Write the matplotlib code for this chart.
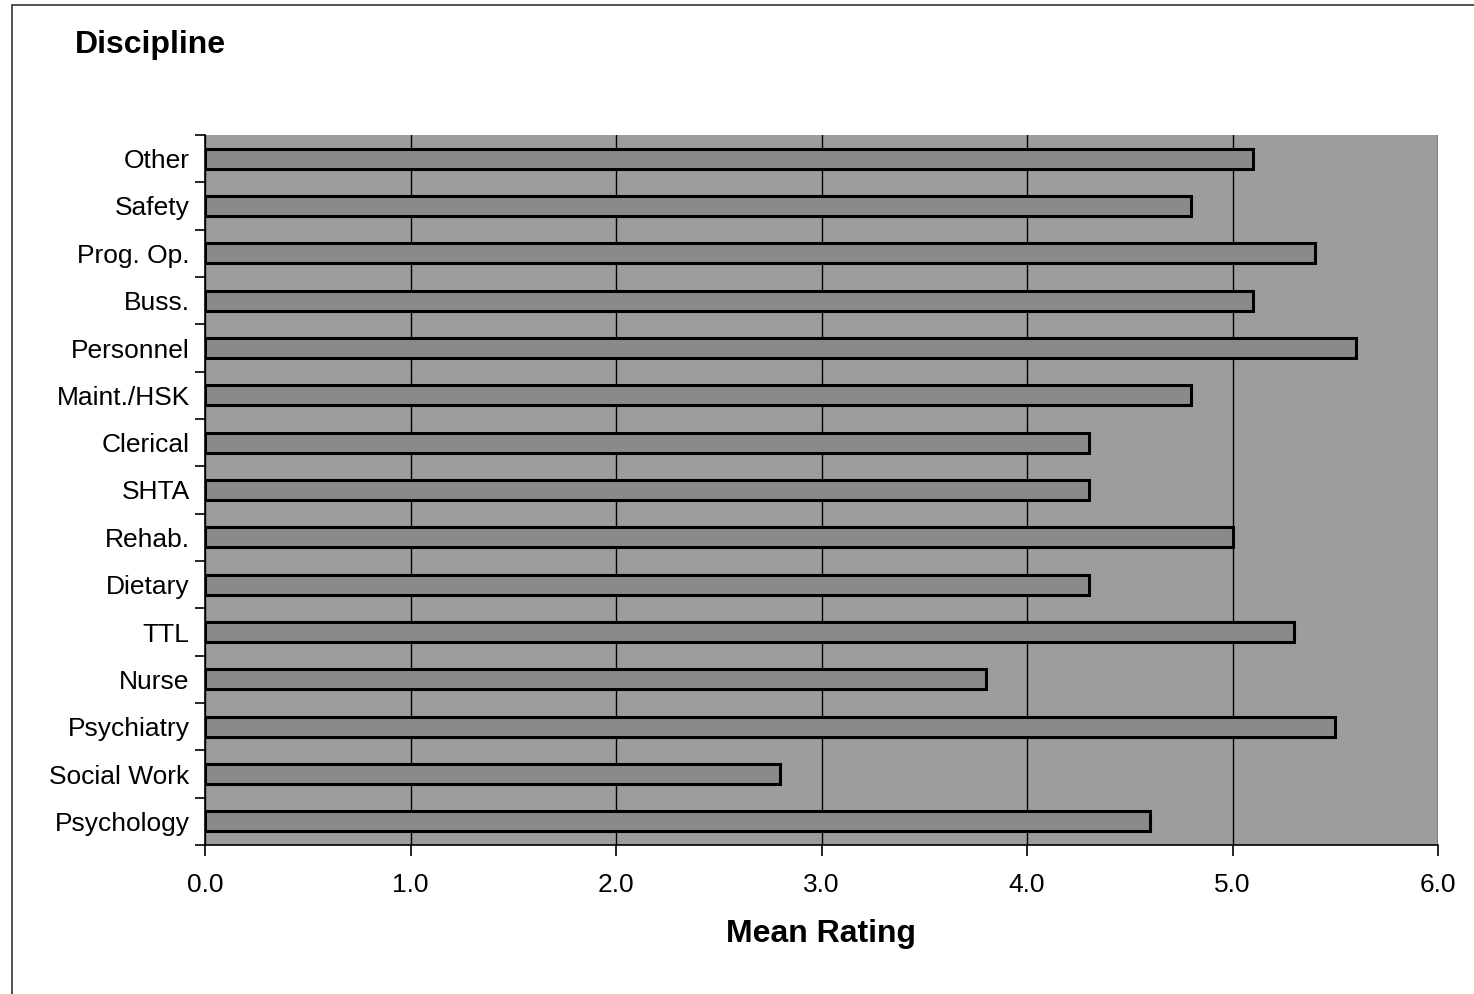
import numpy as np
import matplotlib.pyplot as plt
from matplotlib.patches import Rectangle

plt.rcParams['font.family'] = ['Liberation Sans', 'DejaVu Sans']

# categories bottom -> top
disciplines = ['Psychology', 'Social Work', 'Psychiatry', 'Nurse', 'TTL', 'Dietary',
               'Rehab.', 'SHTA', 'Clerical', 'Maint./HSK', 'Personnel', 'Buss.',
               'Prog. Op.', 'Safety', 'Other']
mean_rating = [4.6, 2.8, 5.5, 3.8, 5.3, 4.3, 5.0, 4.3, 4.3, 4.8, 5.6, 5.1, 5.4, 4.8, 5.1]
x_ticks = [0.0, 1.0, 2.0, 3.0, 4.0, 5.0, 6.0]

fig = plt.figure(figsize=(14.74, 9.94), dpi=100)
ax = fig.add_axes([205/1474, 1-845/994, (1438-205)/1474, (845-135)/994])

# outer frame of the scanned chart
fig.patches.append(Rectangle((12/1474, -0.01), 1.1, 1-5/994+0.01,
                             transform=fig.transFigure, fill=False,
                             edgecolor='#333333', linewidth=1.2))

ax.set_facecolor('#9d9d9d')
y = np.arange(len(disciplines))
ax.barh(y, mean_rating, height=0.42, color='#8a8a8a', edgecolor='black',
        linewidth=2.2, zorder=3)

ax.set_xlim(0, 6)
ax.set_ylim(-0.5, len(disciplines) - 0.5)
ax.set_xticks(x_ticks)
ax.set_xticklabels(['%.1f' % v for v in x_ticks], fontsize=19)
ax.set_yticks(y)
ax.set_yticklabels(disciplines, fontsize=19)
ax.set_yticks(np.arange(-0.5, len(disciplines)), minor=True)
ax.tick_params(axis='y', which='major', length=0, pad=11)
ax.tick_params(axis='y', which='minor', length=7, width=1.2, direction='out')
ax.tick_params(axis='x', length=8, width=1.2, direction='out', pad=12)

ax.grid(axis='x', color='black', linewidth=1.0, zorder=1)
ax.set_axisbelow(True)
for side in ['top', 'right']:
    ax.spines[side].set_visible(False)
ax.spines['left'].set_linewidth(1.2)
ax.spines['bottom'].set_linewidth(1.2)

ax.set_xlabel('Mean Rating', fontsize=23, fontweight='bold', labelpad=16)
fig.text(75/1474, 1-45/994, 'Discipline', fontsize=23, fontweight='bold',
         va='center', ha='left')

fig.savefig('out.png', dpi=100)
